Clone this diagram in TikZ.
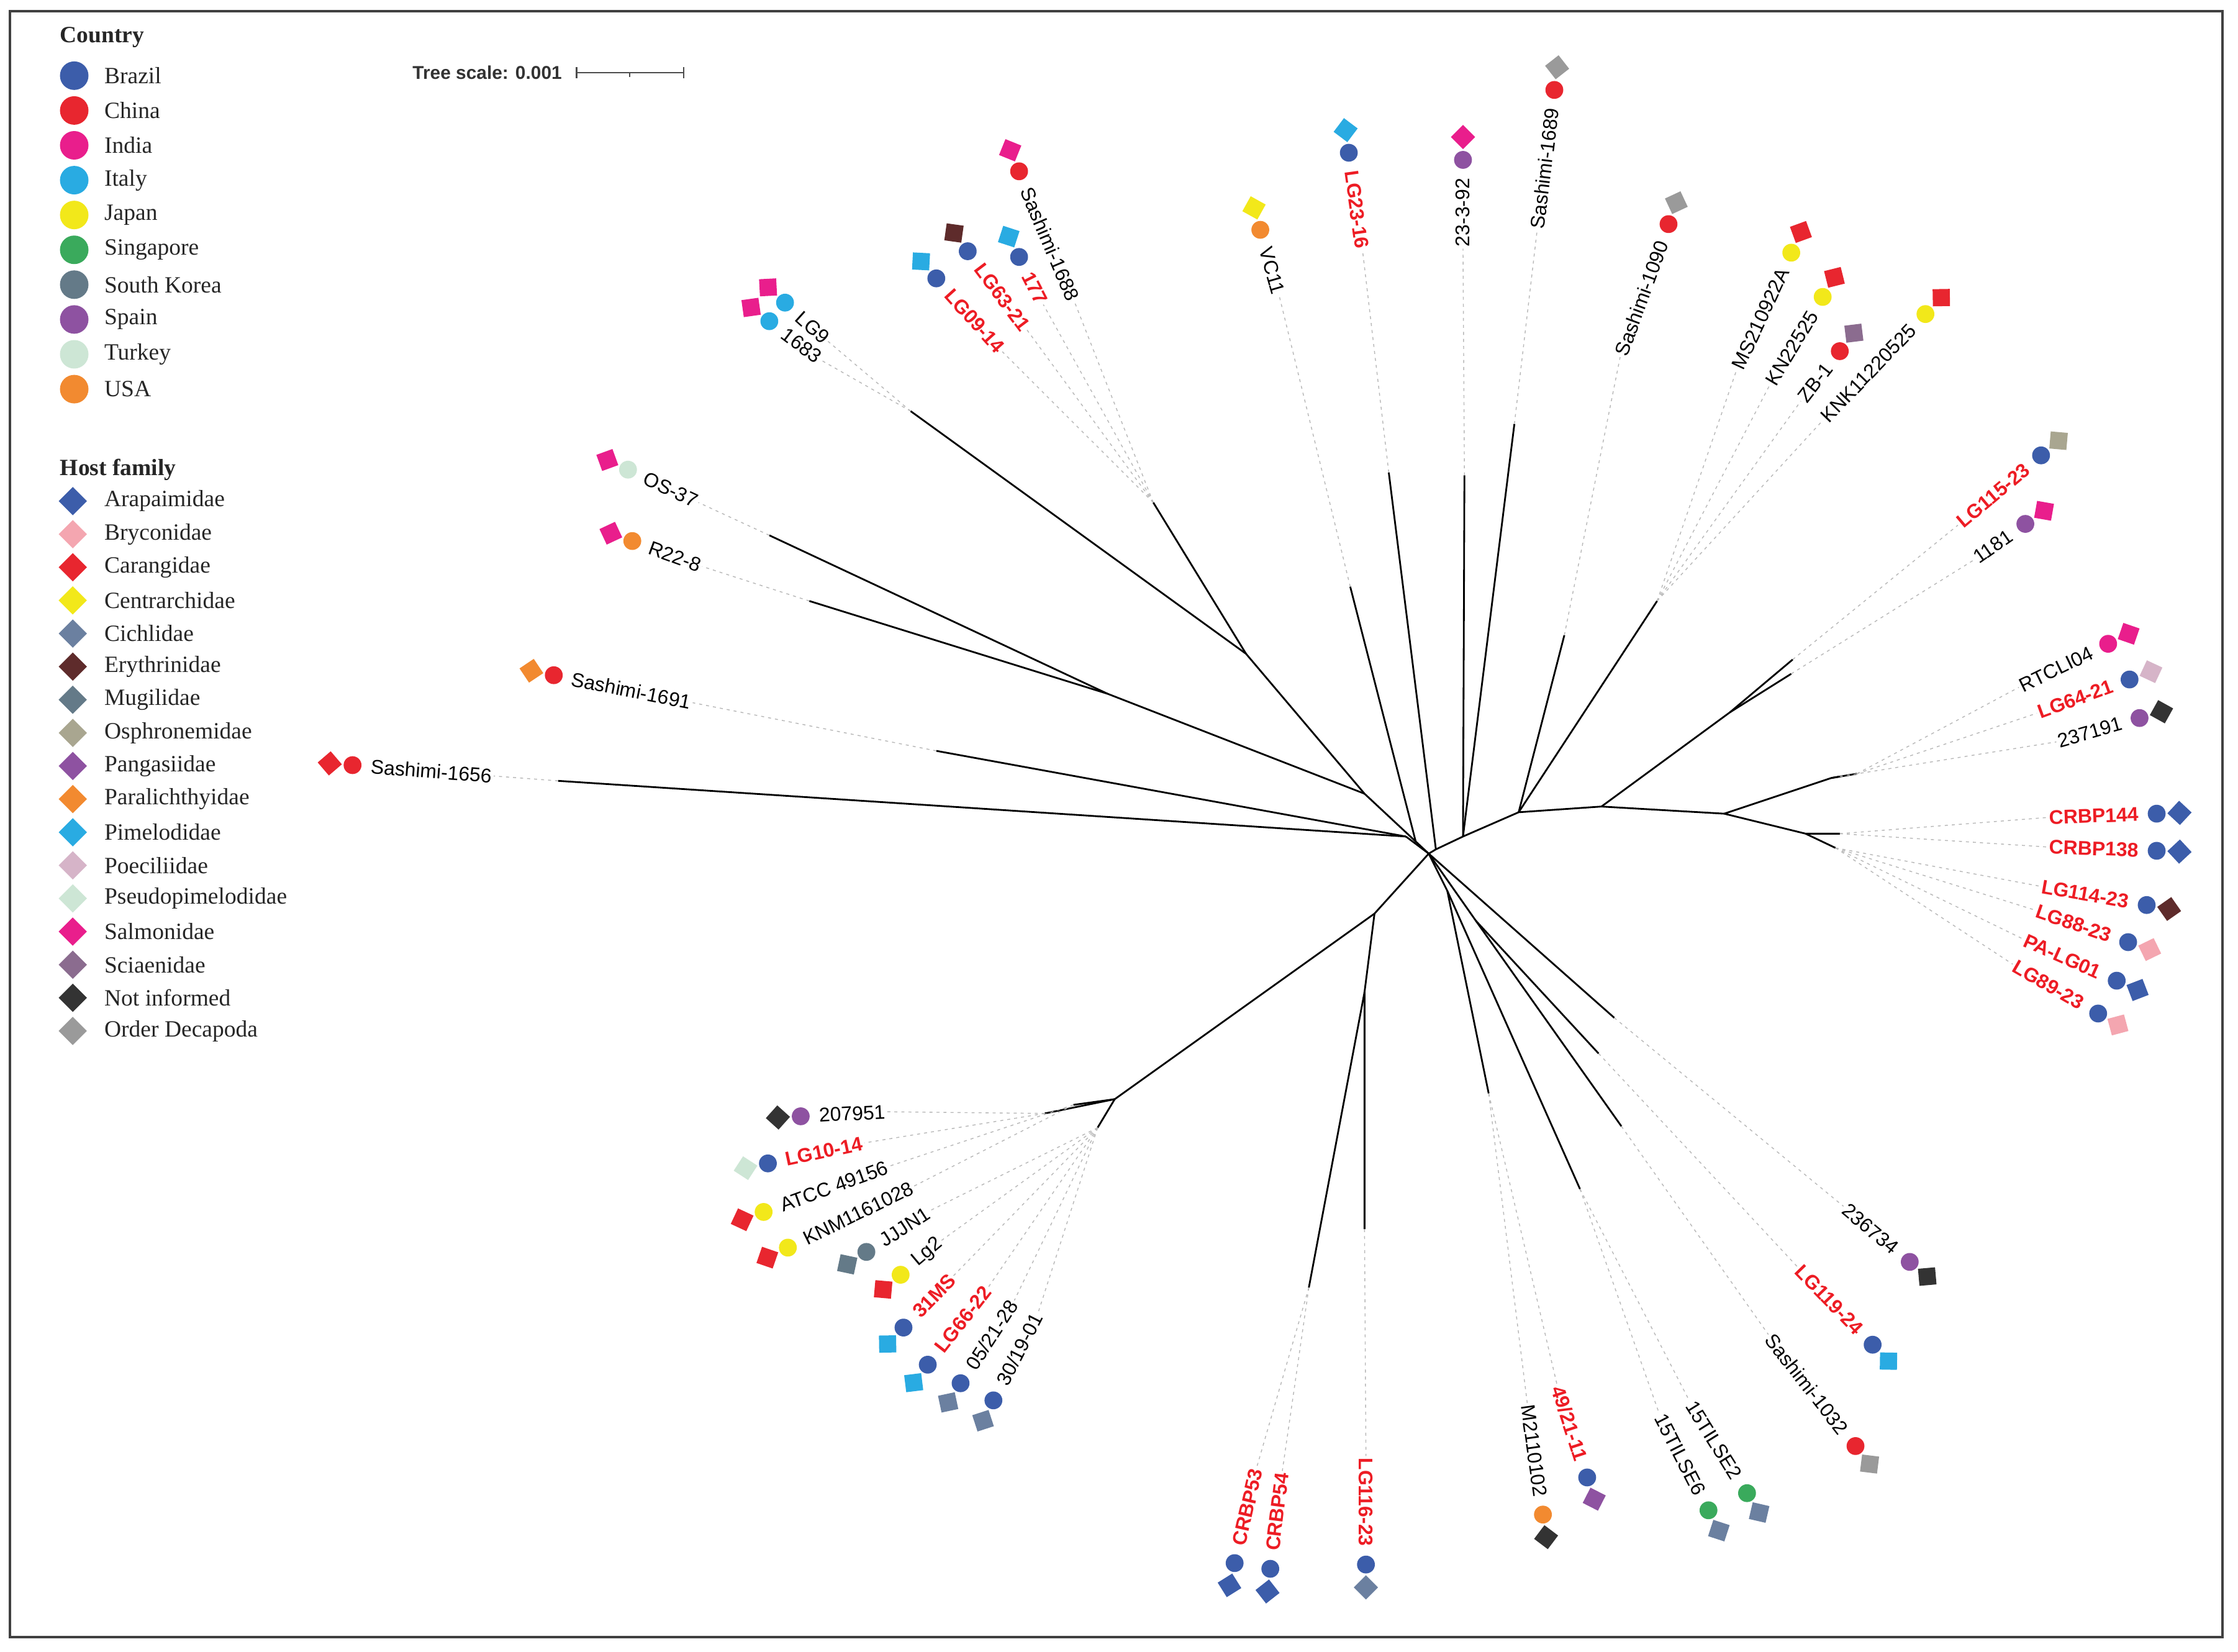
\documentclass[tikz,border=0pt]{standalone}
\usepackage{fontspec}
\setmainfont{Liberation Serif}
\newfontfamily\lsans{Liberation Sans}
\usetikzlibrary{calc}
\definecolor{cBr}{HTML}{3C5DAA}
\definecolor{cCn}{HTML}{E8262F}
\definecolor{cIn}{HTML}{E91E8C}
\definecolor{cIt}{HTML}{29ABE2}
\definecolor{cJp}{HTML}{F2E81A}
\definecolor{cSg}{HTML}{3AAA5C}
\definecolor{cKr}{HTML}{647A88}
\definecolor{cEs}{HTML}{8E52A1}
\definecolor{cTr}{HTML}{CDE6D5}
\definecolor{cUs}{HTML}{F28A30}
\definecolor{hAra}{HTML}{3C5DAA}
\definecolor{hBry}{HTML}{F4A6B0}
\definecolor{hCar}{HTML}{E8262F}
\definecolor{hCen}{HTML}{F2E81A}
\definecolor{hCic}{HTML}{6B80A0}
\definecolor{hEry}{HTML}{5E2B2B}
\definecolor{hMug}{HTML}{647A88}
\definecolor{hOsp}{HTML}{A9A690}
\definecolor{hPan}{HTML}{8E52A1}
\definecolor{hPar}{HTML}{F28A30}
\definecolor{hPim}{HTML}{29ABE2}
\definecolor{hPoe}{HTML}{D6B4C8}
\definecolor{hPse}{HTML}{CDE6D5}
\definecolor{hSal}{HTML}{E91E8C}
\definecolor{hSci}{HTML}{8B6C8F}
\definecolor{hNot}{HTML}{333333}
\definecolor{hDec}{HTML}{9A9A9A}
\definecolor{lblred}{HTML}{ED1C24}
\tikzset{
  br/.style={line width=0.7pt, black},
  lk/.style={black!28, line width=0.35pt, dash pattern=on 1.2pt off 1.6pt},
  lbl/.style={font=\lsans\fontsize{7.9}{9}\selectfont, inner sep=0.6pt, text=black},
  lblb/.style={font=\lsans\bfseries\fontsize{7.9}{9}\selectfont, inner sep=0.6pt, text=lblred},
  hostmk/.style={rectangle, minimum size=0.24cm, inner sep=0pt},
  ctrymk/.style={circle, minimum size=0.25cm, inner sep=0pt},
  legtxt/.style={font=\fontsize{9.3}{11}\selectfont, text=black!85, inner sep=1pt},
  leghead/.style={font=\bfseries\fontsize{9.3}{11}\selectfont, text=black!85, inner sep=1pt},
}
% #1 name, #2 x, #3 y, #4 angle, #5 text, #6 style, #7 country, #8 host, #9 from
\newcommand\leafR[9]{%
  \node[hostmk, fill=#8, rotate=#4+45] (#1h) at ($(#2,#3)+(#4:0.32cm)$) {};
  \node[ctrymk, fill=#7] (#1c) at (#2,#3) {};
  \node[#6, anchor=east, rotate=#4] (#1) at ($(#2,#3)+(#4:-0.23cm)$) {#5};
  \draw[lk] (#9) -- (#1.west);
}
\newcommand\leafL[9]{%
  \node[hostmk, fill=#8, rotate=#4+45] (#1h) at ($(#2,#3)+(#4:0.32cm)$) {};
  \node[ctrymk, fill=#7] (#1c) at (#2,#3) {};
  \node[#6, anchor=west, rotate=#4+180] (#1) at ($(#2,#3)+(#4:-0.23cm)$) {#5};
  \draw[lk] (#9) -- (#1.east);
}
\begin{document}
\begin{tikzpicture}[x=0.02cm, y=-0.02cm]
\useasboundingbox (0,0) rectangle (1568,1157);
\fill[white] (0,0) rectangle (1568,1157);
\draw[black!75, line width=1pt] (7,8) rectangle (1557,1147);

% ---------- legend ----------
\node[leghead, anchor=west] (hcountry) at (40,26) {Country};
\foreach \c/\t [count=\i from 0] in {cBr/Brazil, cCn/China, cIn/India, cIt/Italy, cJp/Japan, cSg/Singapore, cKr/South Korea, cEs/Spain, cTr/Turkey, cUs/USA} {
  \node[circle, fill=\c, minimum size=0.4cm, inner sep=0pt] (lc\i) at (52, 53+24.4*\i) {};
  \node[legtxt, anchor=west] (lt\i) at (71, 53+24.4*\i) {\t};
}
\node[leghead, anchor=west] (hhost) at (40,329) {Host family};
\foreach \c/\t [count=\i from 0] in {hAra/Arapaimidae, hBry/Bryconidae, hCar/Carangidae, hCen/Centrarchidae, hCic/Cichlidae, hEry/Erythrinidae, hMug/Mugilidae, hOsp/Osphronemidae, hPan/Pangasiidae, hPar/Paralichthyidae, hPim/Pimelodidae, hPoe/Poeciliidae, hPse/Pseudopimelodidae, hSal/Salmonidae, hSci/Sciaenidae, hNot/Not informed, hDec/Order Decapoda} {
  \node[rectangle, rotate=45, fill=\c, minimum size=0.28cm, inner sep=0pt] (lh\i) at (51, 351+23.2*\i) {};
  \node[legtxt, anchor=west] (lht\i) at (71, 351+23.2*\i) {\t};
}

% ---------- tree scale ----------
\node[font=\lsans\bfseries\fontsize{7.4}{9}\selectfont, text=black!80, anchor=east, inner sep=0pt] (tscale) at (394,51) {Tree scale: 0.001};
\coordinate (sbA) at (404,51);
\coordinate (sbB) at (479,51);
\draw[black!70, line width=0.6pt] (sbA) -- (sbB);
\draw[black!70, line width=0.6pt] ($(sbA)+(0,-4)$) -- ($(sbA)+(0,4)$);
\draw[black!70, line width=0.6pt] ($(sbB)+(0,-4)$) -- ($(sbB)+(0,4)$);
\draw[black!70, line width=0.5pt] (441,51) -- (441,54);

% ---------- tree nodes ----------
\coordinate (C) at (1001,598);
\coordinate (L) at (985,586);
\coordinate (t1656) at (391,547);
\coordinate (t1691) at (656,526);
\coordinate (J1) at (956,556);
\coordinate (N3) at (873,458);
\coordinate (tLG9) at (638,288);
\coordinate (N4) at (808,352);
\coordinate (NOR) at (776,486);
\coordinate (tOS) at (539,375);
\coordinate (tR22) at (567,421);
\coordinate (VCb) at (992,590);
\coordinate (tVC) at (946,411);
\coordinate (P0) at (1006,595);
\coordinate (tLG23) at (973,331);
\coordinate (P1) at (1025,586);
\coordinate (t2392) at (1026,333);
\coordinate (t1689) at (1061,297);
\coordinate (N5) at (1064,569);
\coordinate (t1090) at (1096,445);
\coordinate (tMS) at (1161,421);
\coordinate (N6) at (1122,565);
\coordinate (N8) at (1212,499);
\coordinate (tLG115) at (1256,462);
\coordinate (t1181) at (1255,472);
\coordinate (N7) at (1208,570);
\coordinate (N9) at (1283,545);
\coordinate (E9a) at (1289,544);
\coordinate (E9b) at (1301,542);
\coordinate (N10) at (1265,584);
\coordinate (E10a) at (1289,584);
\coordinate (E10b) at (1286,594);
\coordinate (D1) at (963,640);
\coordinate (N11) at (956,695);
\coordinate (tLG116) at (956,861);
\coordinate (tCRBP) at (917,902);
\coordinate (N12) at (781,770);
\coordinate (E12a) at (732,780);
\coordinate (E12c) at (752,774);
\coordinate (E12b) at (769,790);
\coordinate (S2) at (1014,624);
\coordinate (N13) at (1043,766);
\coordinate (N14) at (1107,833);
\coordinate (S1) at (1034,645);
\coordinate (t1032) at (1136,789);
\coordinate (tLG119) at (1120,738);
\coordinate (t236) at (1131,713);

% ---------- branches ----------
\draw[br] (C) -- (L);
\draw[br] (L) -- (t1656);
\draw[br] (L) -- (t1691);
\draw[br] (C) -- (J1) -- (N3) -- (tLG9);
\draw[br] (N3) -- (N4);
\draw[br] (J1) -- (NOR) -- (tOS);
\draw[br] (NOR) -- (tR22);
\draw[br] (VCb) -- (tVC);
\draw[br] (C) -- (P0) -- (P1) -- (N5);
\draw[br] (P0) -- (tLG23);
\draw[br] (P1) -- (t2392);
\draw[br] (P1) -- (t1689);
\draw[br] (N5) -- (t1090);
\draw[br] (N5) -- (tMS);
\draw[br] (N5) -- (N6) -- (N7);
\draw[br] (N6) -- (N8) -- (tLG115);
\draw[br] (N8) -- (t1181);
\draw[br] (N7) -- (N9) -- (E9a);
\draw[br] (N9) -- (E9b);
\draw[br] (N7) -- (N10) -- (E10a);
\draw[br] (N10) -- (E10b);
\draw[br] (C) -- (D1) -- (N12) -- (E12a);
\draw[br] (N12) -- (E12c);
\draw[br] (N12) -- (E12b);
\draw[br] (D1) -- (N11) -- (tLG116);
\draw[br] (N11) -- (tCRBP);
\draw[br] (C) -- (S2) -- (N13);
\draw[br] (S2) -- (N14);
\draw[br] (C) -- (S1) -- (t1032);
\draw[br] (S1) -- (tLG119);
\draw[br] (C) -- (t236);

% ---------- leaves ----------
\leafL{s1656}{247}{536}{175.6}{Sashimi-1656}{lbl}{cCn}{hCar}{t1656}
\leafL{s1691}{388}{473}{168.8}{Sashimi-1691}{lbl}{cCn}{hPar}{t1691}
\leafL{rr228}{443}{379}{160}{R22-8}{lbl}{cUs}{hSal}{tR22}
\leafL{os37}{440}{329}{155}{OS-37}{lbl}{cTr}{hSal}{tOS}
\leafL{lg9}{550}{212}{138}{LG9}{lbl}{cIt}{hSal}{tLG9}
\leafL{l1683}{539}{225}{143}{1683}{lbl}{cIt}{hSal}{tLG9}
\leafL{lg0914}{656}{195}{132}{LG09-14}{lblb}{cBr}{hPim}{N4}
\leafL{lg6321}{678}{176}{127}{LG63-21}{lblb}{cBr}{hEry}{N4}
\leafL{l177}{714}{180}{117}{177}{lblb}{cBr}{hPim}{N4}
\leafL{s1688}{714}{120}{113}{Sashimi-1688}{lbl}{cCn}{hSal}{N4}
\leafL{vc11}{883}{161}{106}{VC11}{lbl}{cUs}{hCen}{tVC}
\leafL{lg2316}{945}{107}{98}{LG23-16}{lblb}{cBr}{hPim}{tLG23}
\leafR{d2392}{1025}{112}{90}{23-3-92}{lbl}{cEs}{hSal}{t2392}
\leafR{s1689}{1089}{63}{83}{Sashimi-1689}{lbl}{cCn}{hDec}{t1689}
\leafR{s1090}{1169}{157}{70}{Sashimi-1090}{lbl}{cCn}{hDec}{t1090}
\leafR{ms}{1255}{177}{65}{MS210922A}{lbl}{cJp}{hCar}{tMS}
\leafR{kn}{1277}{208}{59}{KN22525}{lbl}{cJp}{hCar}{tMS}
\leafR{zb}{1289}{246}{52}{ZB-1}{lbl}{cCn}{hSci}{tMS}
\leafR{knk}{1349}{220}{46}{KNK11220525}{lbl}{cJp}{hCar}{tMS}
\leafR{lg115}{1430}{319}{40}{LG115-23}{lblb}{cBr}{hOsp}{tLG115}
\leafR{l1181}{1419}{367}{35}{1181}{lbl}{cEs}{hSal}{t1181}
\leafR{rtc}{1477}{451}{26}{RTCLI04}{lbl}{cIn}{hSal}{E9b}
\leafR{lg6421}{1492}{476}{20}{LG64-21}{lblb}{cBr}{hPoe}{E9b}
\leafR{l237191}{1499}{503}{16}{237191}{lbl}{cEs}{hNot}{E9a}
\leafR{crbpa}{1511}{570}{2}{CRBP144}{lblb}{cBr}{hAra}{E10a}
\leafR{crbpb}{1511}{596}{-2}{CRBP138}{lblb}{cBr}{hAra}{E10a}
\leafR{lg114}{1504}{634}{-10}{LG114-23}{lblb}{cBr}{hEry}{E10b}
\leafR{lg88}{1491}{660}{-19}{LG88-23}{lblb}{cBr}{hBry}{E10b}
\leafR{palg}{1483}{687}{-24}{PA-LG01}{lblb}{cBr}{hAra}{E10b}
\leafR{lg89}{1470}{710}{-30}{LG89-23}{lblb}{cBr}{hBry}{E10b}
\leafR{l236734}{1338}{884}{-40}{236734}{lbl}{cEs}{hNot}{t236}
\leafR{lg119}{1312}{942}{-46}{LG119-24}{lblb}{cBr}{hPim}{tLG119}
\leafR{s1032}{1300}{1013}{-52}{Sashimi-1032}{lbl}{cCn}{hDec}{t1032}
\leafR{tila}{1224}{1046}{-58}{15TILSE2}{lbl}{cSg}{hCic}{N14}
\leafR{tilb}{1197}{1058}{-63}{15TILSE6}{lbl}{cSg}{hCic}{N14}
\leafR{l4921}{1112}{1035}{-72}{49/21-11}{lblb}{cBr}{hPan}{N13}
\leafR{m211}{1081}{1061}{-82}{M2110102}{lbl}{cUs}{hNot}{N13}
\leafR{lg116}{957}{1096}{-90}{LG116-23}{lblb}{cBr}{hCic}{tLG116}
\leafL{crbpc}{890}{1099}{-97}{CRBP54}{lblb}{cBr}{hAra}{tCRBP}
\leafL{crbpd}{865}{1095}{-103}{CRBP53}{lblb}{cBr}{hAra}{tCRBP}
\leafL{l3019}{696}{981}{-117}{30/19-01}{lbl}{cBr}{hCic}{E12b}
\leafL{l0521}{673}{969}{-123}{05/21-28}{lbl}{cBr}{hCic}{E12b}
\leafL{lg6622}{650}{956}{-128}{LG66-22}{lblb}{cBr}{hPim}{E12b}
\leafL{ms31}{633}{930}{-134}{31MS}{lblb}{cBr}{hPim}{E12b}
\leafL{lgz}{631}{893}{-140}{Lg2}{lbl}{cJp}{hCar}{E12b}
\leafL{jjjn}{607}{877}{-147}{JJJN1}{lbl}{cKr}{hMug}{E12b}
\leafL{knm}{552}{874}{-154}{KNM1161028}{lbl}{cJp}{hCar}{E12c}
\leafL{atcc}{535}{849}{-160}{ATCC 49156}{lbl}{cJp}{hCar}{E12c}
\leafL{lg1014}{538}{815}{-168}{LG10-14}{lblb}{cBr}{hPse}{E12a}
\leafL{l207951}{561}{782}{-177}{207951}{lbl}{cEs}{hNot}{E12a}
\end{tikzpicture}
\end{document}
